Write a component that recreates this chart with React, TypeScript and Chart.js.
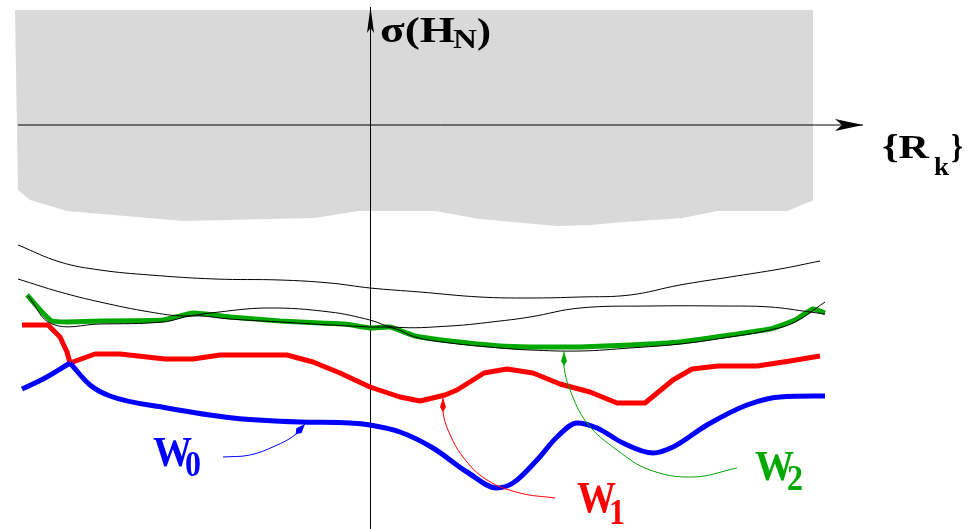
import React, { useEffect, useRef } from "react";
import { Chart, registerables } from "chart.js";

Chart.register(...registerables);

type P = [number, number];

// Sketch frame: x grows rightwards, y grows downwards (sketch units).
const X_MIN = 0;
const X_MAX = 975;
const Y_MIN = 0;
const Y_MAX = 529;

// Shaded (gray) region: lower boundary, filled up to SHADE_TOP
const SHADE_TOP = 10;
const shadedBoundary: P[] = [
  [15, 10], [18, 190], [30, 200], [67, 211], [183, 221], [315, 218], [358, 211],
  [435, 211], [480, 219], [557, 226], [590, 225], [623, 222], [683, 218],
  [717, 211], [787, 211], [817, 199], [813, 10],
];

// Axes
const horizontalAxis: P[] = [[18, 125], [863, 125]];
const verticalAxis: P[] = [[370.5, 529], [370.5, 7]];

// Thin black curves
const curveA: P[] = [
  [18, 245], [60, 262], [100, 270], [150, 275], [215, 279], [280, 280], [330, 283],
  [370, 288], [420, 292], [480, 297], [530, 298], [580, 297], [630, 295],
  [680, 285], [730, 277], [780, 269], [820, 261],
];
const curveB: P[] = [
  [18, 279], [60, 292], [100, 302], [150, 312], [185, 316], [210, 313], [267, 308],
  [330, 312], [370, 320], [393, 327], [450, 326], [500, 321], [530, 317],
  [580, 308], [650, 306], [720, 306], [770, 307], [810, 312], [825, 314],
];
const curveC: P[] = [
  [28, 296], [52, 324], [100, 324], [163, 322], [193, 316], [230, 319], [280, 322],
  [330, 325], [370, 327], [393, 328], [415, 337], [450, 343], [500, 348],
  [530, 350], [580, 351], [630, 348], [680, 344], [730, 337], [770, 330],
  [795, 322], [825, 302],
];

// Thick coloured curves
const curveW2: P[] = [
  [27, 295], [52, 321], [100, 321], [163, 320], [193, 313], [230, 317], [280, 321],
  [320, 323], [345, 324], [370, 328], [390, 327], [415, 336], [450, 341],
  [500, 346], [530, 347], [580, 347], [630, 345], [680, 342], [730, 335],
  [770, 329], [795, 320], [813, 309], [825, 313],
];
const curveW1: P[] = [
  [22, 325], [48, 325], [60, 337], [67, 352], [70, 363], [95, 354], [120, 354],
  [165, 359], [193, 359], [220, 355], [287, 355], [313, 362], [340, 373],
  [370, 387], [400, 397], [420, 401], [445, 395], [457, 390], [473, 380],
  [484, 373], [507, 369], [533, 373], [560, 384], [590, 392], [617, 403],
  [645, 403], [673, 380], [692, 369], [718, 366], [757, 366], [790, 361],
  [820, 356],
];
// W0 rises to the crossing with W1, then continues from it
const curveW0Start: P[] = [[22, 389], [45, 378], [70, 363]];
const curveW0: P[] = [
  [70, 363], [90, 385], [110, 396], [167, 408], [233, 418],
  [300, 422], [350, 423], [370, 425], [400, 432], [433, 448], [467, 472],
  [497, 488], [513, 483], [537, 460], [557, 437], [577, 423], [597, 428],
  [623, 443], [653, 453], [673, 447], [707, 425], [747, 405], [780, 397],
  [825, 396],
];

// Pointer curves from labels to curves (last point = arrow tip)
const pointerW0: P[] = [[223, 457], [250, 455], [275, 446], [295, 435], [305, 424]];
const pointerW1: P[] = [
  [555, 498], [520, 493], [487, 480], [463, 457], [448, 430], [443, 412], [443, 398],
];
const pointerW2: P[] = [
  [737, 468], [693, 477], [650, 470], [617, 450], [587, 423], [570, 390],
  [564, 367], [564, 352],
];

// Labels
const yAxisLabel = ["σ(H", "N", ")"];
const xAxisLabel = ["{R", "k", "}"];
const seriesNames = ["W", "W", "W"];
const seriesSubs = ["0", "1", "2"];

const BLUE = "#0000ff";
const RED = "#ff0000";
const GREEN = "#00a800";
const GRAY = "#d9d9d9";
const FONT = '"Liberation Serif", "Times New Roman", serif';

const toXY = (pts: P[]) => pts.map(([x, y]) => ({ x, y }));

type Head = { side: number; back: number; half: number };

function drawHead(ctx: CanvasRenderingContext2D, fx: number, fy: number, tx: number, ty: number, h: Head, color: string) {
  const dx = tx - fx;
  const dy = ty - fy;
  const len = Math.hypot(dx, dy) || 1;
  const ux = dx / len;
  const uy = dy / len;
  const nx = -uy;
  const ny = ux;
  ctx.save();
  ctx.fillStyle = color;
  ctx.beginPath();
  ctx.moveTo(tx, ty);
  ctx.lineTo(tx - ux * h.side + nx * h.half, ty - uy * h.side + ny * h.half);
  ctx.lineTo(tx - ux * h.back, ty - uy * h.back);
  ctx.lineTo(tx - ux * h.side - nx * h.half, ty - uy * h.side - ny * h.half);
  ctx.closePath();
  ctx.fill();
  ctx.restore();
}

const arrowPlugin = {
  id: "arrowHeads",
  afterDatasetsDraw(chart: any) {
    const ctx = chart.ctx as CanvasRenderingContext2D;
    chart.data.datasets.forEach((ds: any, i: number) => {
      if (!ds.arrowHead) return;
      const pts = chart.getDatasetMeta(i).data;
      if (pts.length < 2) return;
      const a = pts[pts.length - 2];
      const b = pts[pts.length - 1];
      drawHead(ctx, a.x, a.y, b.x, b.y, ds.arrowHead, ds.arrowColor || ds.borderColor);
    });
  },
};

// Draw text stretched horizontally to a target width
function drawBox(ctx: CanvasRenderingContext2D, t: string, size: number, x: number, baseline: number, width: number, color: string) {
  ctx.save();
  ctx.fillStyle = color;
  ctx.textBaseline = "alphabetic";
  ctx.textAlign = "left";
  ctx.font = `bold ${size}px ${FONT}`;
  const w = ctx.measureText(t).width || 1;
  ctx.translate(x, baseline);
  ctx.scale(width / w, 1);
  ctx.fillText(t, 0, 0);
  ctx.restore();
}

const labelPlugin = {
  id: "sketchLabels",
  afterDraw(chart: any) {
    const ctx = chart.ctx as CanvasRenderingContext2D;
    const sx = chart.scales.x;
    const sy = chart.scales.y;
    const px = (v: number) => sx.getPixelForValue(v);
    const py = (v: number) => sy.getPixelForValue(v);
    const box = (t: string, size: number, x0: number, x1: number, b: number, c: string) =>
      drawBox(ctx, t, size, px(x0), py(b), px(x1) - px(x0), c);

    // y-axis label σ(H_N)
    box(yAxisLabel[0], 36, 380, 455, 42, "#000");
    box(yAxisLabel[1], 27, 453, 477, 48, "#000");
    box(yAxisLabel[2], 36, 477, 491, 43, "#000");

    // x-axis label {R_k}
    box(xAxisLabel[0], 33, 882, 929, 158, "#000");
    box(xAxisLabel[1], 26, 934, 949, 175, "#000");
    box(xAxisLabel[2], 33, 951, 963, 158, "#000");

    const spots = [
      { x0: 153, b: 466, sb: 476, c: BLUE, size: 43 },
      { x0: 577, b: 512, sb: 524, c: RED, size: 45 },
      { x0: 755, b: 480, sb: 490, c: GREEN, size: 43 },
    ];
    spots.forEach((s, i) => {
      box(seriesNames[i], s.size, s.x0, s.x0 + 39, s.b, s.c);
      box(seriesSubs[i], 35, s.x0 + 32, s.x0 + 48, s.sb, s.c);
    });
  },
};

export default function App() {
  const ref = useRef<HTMLCanvasElement | null>(null);

  useEffect(() => {
    if (!ref.current) return;
    const thin = (data: P[], color: string, order: number, extra: any = {}) => ({
      data: toXY(data),
      borderColor: color,
      borderWidth: 1,
      pointRadius: 0,
      tension: 0.4,
      fill: false,
      order,
      ...extra,
    });
    const thick = (data: P[], color: string, order: number, extra: any = {}) => ({
      data: toXY(data),
      borderColor: color,
      borderWidth: 5,
      pointRadius: 0,
      tension: 0,
      borderJoinStyle: "round",
      fill: false,
      order,
      ...extra,
    });
    const chart = new Chart(ref.current, {
      type: "line",
      data: {
        datasets: [
          {
            data: toXY(shadedBoundary),
            borderWidth: 0,
            borderColor: "rgba(0,0,0,0)",
            backgroundColor: GRAY,
            pointRadius: 0,
            tension: 0,
            fill: { value: SHADE_TOP },
            order: 100,
          } as any,
          thin(horizontalAxis, "#000", 90, { tension: 0, arrowHead: { side: 28, back: 21, half: 6 } }),
          thin(verticalAxis, "#000", 90, { tension: 0, arrowHead: { side: 26, back: 21, half: 3.5 } }),
          thick(curveW2, GREEN, 60, { tension: 0.15 }),
          thin(curveA, "#000", 50),
          thin(curveB, "#000", 50),
          thin(curveC, "#000", 50),
          thick(curveW1, RED, 40),
          thick(curveW0Start, BLUE, 30, { cubicInterpolationMode: "monotone" }),
          thick(curveW0, BLUE, 30, { cubicInterpolationMode: "monotone" }),
          thin(pointerW0, BLUE, 20, { arrowHead: { side: 9, back: 14, half: 3.5 } }),
          thin(pointerW1, RED, 20, { arrowHead: { side: 9, back: 14, half: 3 } }),
          thin(pointerW2, GREEN, 20, { arrowHead: { side: 9, back: 14, half: 3 } }),
        ],
      },
      options: {
        animation: false,
        responsive: true,
        maintainAspectRatio: false,
        layout: { padding: 0 },
        events: [],
        plugins: {
          legend: { display: false },
          tooltip: { enabled: false },
        },
        scales: {
          x: { type: "linear", min: X_MIN, max: X_MAX, display: false },
          y: { type: "linear", min: Y_MIN, max: Y_MAX, reverse: true, display: false },
        },
      },
      plugins: [arrowPlugin, labelPlugin],
    } as any);
    return () => chart.destroy();
  }, []);

  return (
    <div style={{ position: "absolute", left: 0, top: 0, width: 975, height: 529, background: "#fff" }}>
      <canvas ref={ref} />
    </div>
  );
}
